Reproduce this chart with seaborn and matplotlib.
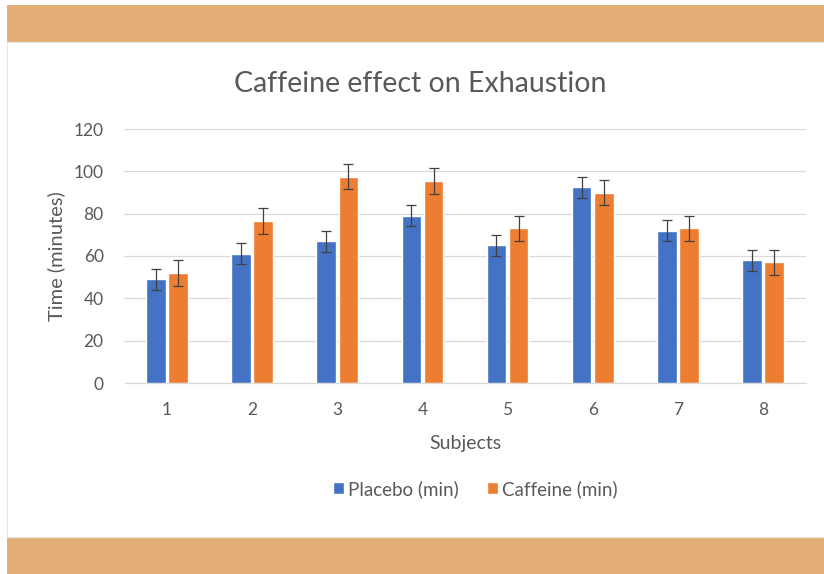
import matplotlib
matplotlib.use("Agg")
import matplotlib.pyplot as plt
import seaborn as sns
import pandas as pd
import numpy as np
from matplotlib.patches import Rectangle

subjects = ["1", "2", "3", "4", "5", "6", "7", "8"]
placebo = [49, 61, 67, 79, 65, 92.5, 72, 58]
caffeine = [52, 76.5, 97.5, 95.5, 73, 90, 73, 57]
placebo_err = [5, 5, 5, 5, 5, 5, 5, 5]
caffeine_err = [6, 6, 6, 6, 6, 6, 6, 6]
series_names = ["Placebo (min)", "Caffeine (min)"]
title = "Caffeine effect on Exhaustion"
xlabel = "Subjects"
ylabel = "Time (minutes)"
yticks = [0, 20, 40, 60, 80, 100, 120]

sns.set_theme(style="white")
plt.rcParams["font.family"] = ["Lato", "DejaVu Sans"]
TXT = "#595959"

df = pd.DataFrame({
    "Subject": subjects * 2,
    "Series": [series_names[0]] * len(subjects) + [series_names[1]] * len(subjects),
    "Value": placebo + caffeine,
})

fig = plt.figure(figsize=(8.24, 5.74), dpi=100)
fig.patch.set_facecolor("white")
W, H = 824, 574
band = "#E3AF76"
# slide background bands
fig.patches.append(Rectangle((7 / W, (H - 42) / H), 1, 37 / H, transform=fig.transFigure,
                             facecolor=band, edgecolor="none", zorder=-2))
fig.patches.append(Rectangle((7 / W, 0), 1, 36 / H, transform=fig.transFigure,
                             facecolor=band, edgecolor="none", zorder=-2))
fig.patches.append(Rectangle((7 / W, (H - 537) / H), 1, 495 / H, transform=fig.transFigure,
                             facecolor="white", edgecolor="#E6E6E6", linewidth=0.8, zorder=-2))

ax = fig.add_axes([124.5 / W, (H - 383) / H, 681 / W, 254 / H])
ax.set_facecolor("none")
sns.barplot(data=df, x="Subject", y="Value", hue="Series", order=subjects,
            hue_order=series_names, palette=["#4472C4", "#ED7D31"],
            errorbar=None, width=0.52, gap=0.11, ax=ax, zorder=3, saturation=1)

# error bars positioned from the drawn bars
for cont, vals, errs in zip(ax.containers, [placebo, caffeine], [placebo_err, caffeine_err]):
    xs = [p.get_x() + p.get_width() / 2 for p in cont.patches]
    ax.errorbar(xs, vals, yerr=errs, fmt="none", ecolor="#404040", elinewidth=0.9,
                capsize=3.5, capthick=0.9, zorder=4)

ax.set_ylim(0, 120)
ax.set_yticks(yticks)
ax.set_xlim(-0.5, len(subjects) - 0.5)
ax.grid(axis="y", color="#D9D9D9", linewidth=0.9, zorder=0)
ax.set_axisbelow(True)
for s in ["top", "right", "left"]:
    ax.spines[s].set_visible(False)
ax.spines["bottom"].set_color("#D9D9D9")
ax.spines["bottom"].set_linewidth(0.9)
ax.tick_params(axis="both", length=0, colors=TXT, labelsize=12.5)
ax.tick_params(axis="x", pad=14)
ax.tick_params(axis="y", pad=15)
ax.set_xlabel(xlabel, color=TXT, fontsize=14, labelpad=12)
ax.set_ylabel(ylabel, color=TXT, fontsize=14.5, labelpad=6)

fig.text(420 / W, (H - 84) / H, title, ha="center", va="center", color=TXT, fontsize=20.5)

handles, labels = ax.get_legend_handles_labels()
ax.legend(handles, labels, loc="center", bbox_to_anchor=(475 / W, (H - 489) / H),
          bbox_transform=fig.transFigure, ncol=2, frameon=False, fontsize=13.5,
          handlelength=0.6, handleheight=0.6, handletextpad=0.2, columnspacing=1.5,
          labelcolor=TXT)

fig.savefig("out.png", dpi=100)
